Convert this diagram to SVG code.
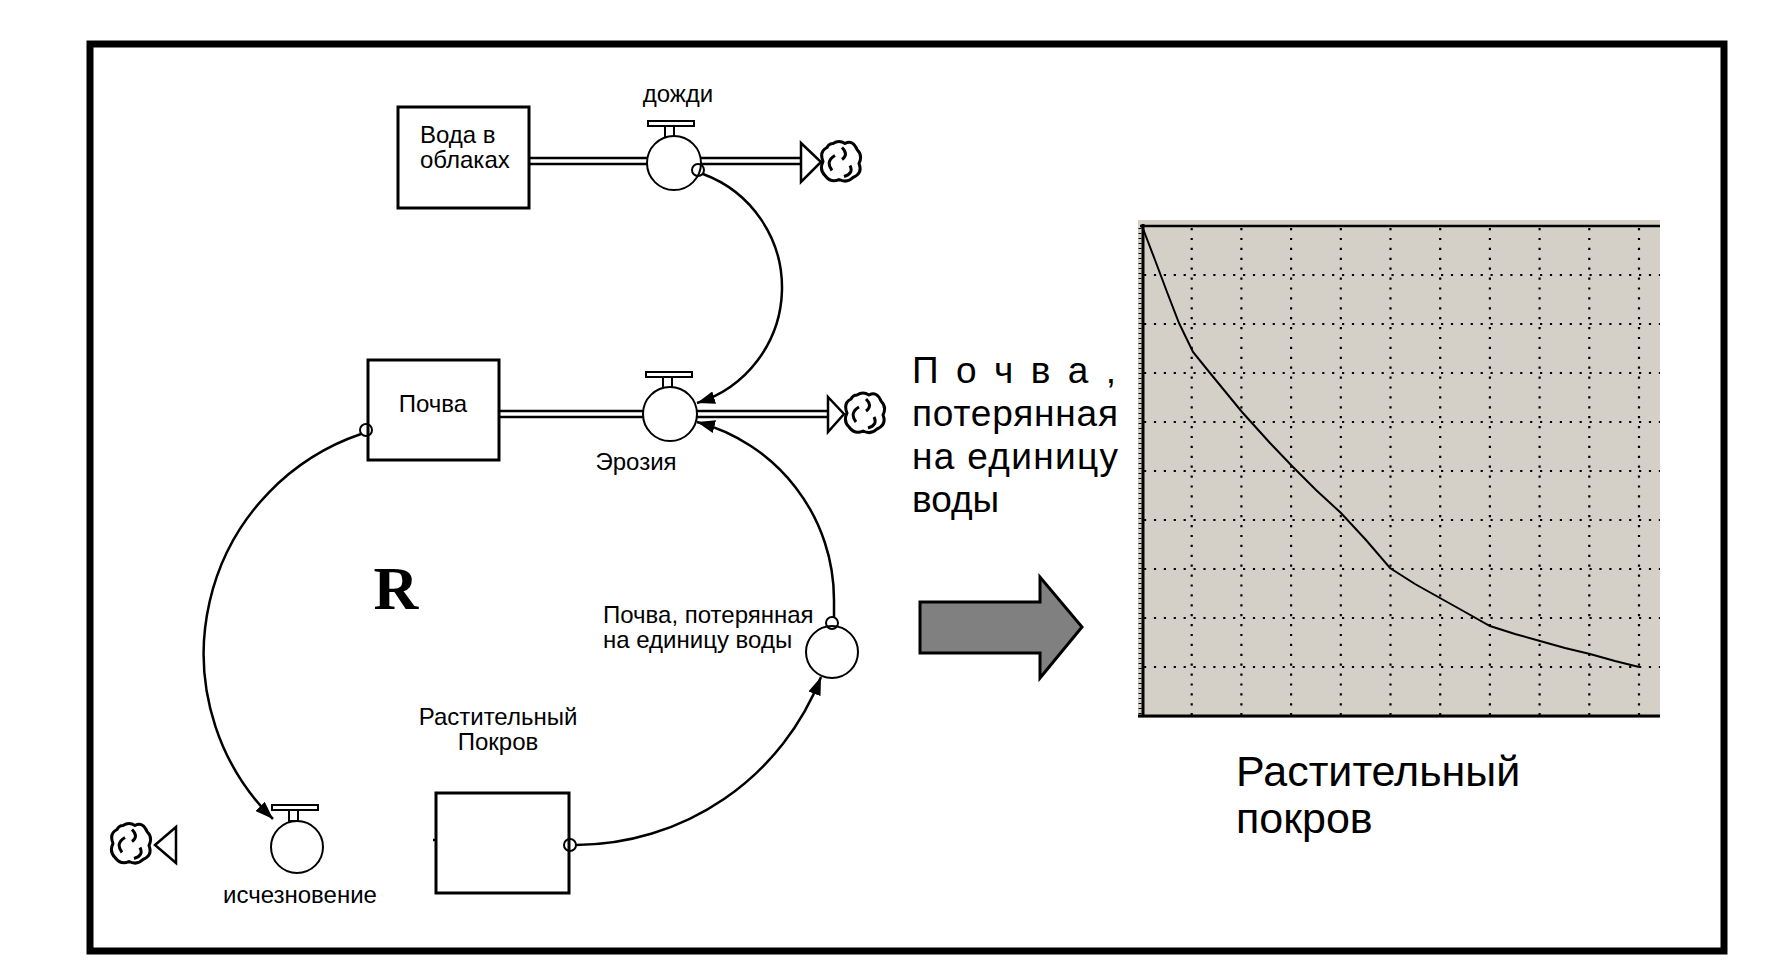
<svg xmlns="http://www.w3.org/2000/svg" xmlns:xlink="http://www.w3.org/1999/xlink" width="1774" height="976" viewBox="0 0 1774 976">
<style>
.lbl{font-family:"Liberation Sans",Arial,sans-serif;font-size:24px;fill:#000}
.big{font-family:"Liberation Sans",Arial,sans-serif;font-size:37px;fill:#000}
.title{font-family:"Liberation Sans",Arial,sans-serif;font-size:43px;fill:#000}
.box{fill:#fff;stroke:#000;stroke-width:3}
.pipe{stroke:#000;stroke-width:2.5;fill:none}
.valve{fill:#fff;stroke:#000;stroke-width:2}
.tri{fill:#fff;stroke:#000;stroke-width:2.5;stroke-linejoin:miter}
.conn{fill:none;stroke:#000;stroke-width:2.5}
.ring{fill:none;stroke:#000;stroke-width:2}
.grid{stroke:#000;stroke-width:2.2;stroke-dasharray:2.2 7.7;fill:none}
</style>
<defs>
<marker id="ah" viewBox="0 0 18 13" refX="18" refY="6.5" markerWidth="18" markerHeight="13" markerUnits="userSpaceOnUse" orient="auto">
<path d="M0,0 L18,6.5 L0,13 z" fill="#000"/>
</marker>
<symbol id="cloud" viewBox="-23 -23 46 46">
<path d="M-8,-18 Q-2,-22 4,-18 Q12,-22 16,-12 Q22,-6 18,2 Q22,12 12,16 Q6,22 -2,18 Q-10,22 -16,14 Q-22,8 -18,0 Q-22,-10 -14,-14 Q-12,-18 -8,-18 Z M-6,-6 Q-16,0 -9,9 M9,4 Q13,12 3,15 M1,-14 Q8,-7 1,-2" fill="#fff" stroke="#000" stroke-width="3" stroke-linejoin="round"/>
</symbol>
<g id="valveTop">
<rect x="-23" y="-42" width="46" height="5" class="valve"/>
<rect x="-6" y="-37" width="9" height="11" class="valve"/>
</g>
</defs>
<rect width="1774" height="976" fill="#fff"/>
<rect id="frame" x="90" y="44" width="1634" height="907" fill="none" stroke="#000" stroke-width="7"/>

<g id="pipes">
<line x1="529" y1="158" x2="801" y2="158" class="pipe"/>
<line x1="529" y1="164" x2="801" y2="164" class="pipe"/>
<line x1="499" y1="411" x2="828" y2="411" class="pipe"/>
<line x1="499" y1="417" x2="828" y2="417" class="pipe"/>
<line x1="433" y1="840" x2="436" y2="840" class="pipe"/>
</g>

<g id="stock-water">
<rect x="398" y="107" width="131" height="101" class="box"/>
<text class="lbl" x="420" y="143">Вода в</text>
<text class="lbl" x="420" y="168">облаках</text>
</g>
<g id="stock-soil">
<rect x="368" y="360" width="131" height="100" class="box"/>
<text class="lbl" x="433" y="412" text-anchor="middle">Почва</text>
</g>
<g id="stock-vegetation">
<rect x="436" y="793" width="133" height="100" class="box"/>
<text class="lbl" x="498" y="725" text-anchor="middle">Растительный</text>
<text class="lbl" x="498" y="750" text-anchor="middle">Покров</text>
</g>

<g id="flow-rain">
<use xlink:href="#valveTop" href="#valveTop" x="671" y="163"/>
<circle cx="674" cy="163" r="27" class="valve"/>
<text class="lbl" x="678" y="102" text-anchor="middle">дожди</text>
<path d="M801,143 L821,162 L801,182 Z" class="tri"/>
<use xlink:href="#cloud" href="#cloud" x="818" y="138" width="46" height="47"/>
</g>
<g id="flow-erosion">
<use xlink:href="#valveTop" href="#valveTop" x="669" y="414"/>
<circle cx="670" cy="414" r="27" class="valve"/>
<text class="lbl" x="636" y="470" text-anchor="middle">Эрозия</text>
<path d="M828,397 L844,414 L828,432 Z" class="tri"/>
<use xlink:href="#cloud" href="#cloud" x="841" y="390" width="48" height="46"/>
</g>
<g id="flow-disappear">
<use xlink:href="#valveTop" href="#valveTop" x="295" y="847"/>
<circle cx="297" cy="847" r="26" class="valve"/>
<text class="lbl" x="300" y="903" text-anchor="middle">исчезновение</text>
<path d="M176,827 L155,845 L176,863 Z" class="tri"/>
<use xlink:href="#cloud" href="#cloud" x="108" y="820" width="46" height="47"/>
</g>
<g id="aux-soil-loss">
<circle cx="832" cy="652" r="26" class="valve"/>
<text class="lbl" x="603" y="623">Почва, потерянная</text>
<text class="lbl" x="603" y="648">на единицу воды</text>
</g>

<g id="connectors">
<path class="conn" d="M703,174 A121,121 0 0 1 697,403" marker-end="url(#ah)"/>
<path class="conn" d="M361,434 A232,232 0 0 0 273,819" marker-end="url(#ah)"/>
<path class="conn" d="M834,617 L834,600 A184,184 0 0 0 697,422" marker-end="url(#ah)"/>
<path class="conn" d="M576,845 A264,264 0 0 0 821,677" marker-end="url(#ah)"/>
<circle cx="698" cy="170" r="6" class="ring"/>
<circle cx="366" cy="430" r="6" class="ring"/>
<circle cx="832" cy="623" r="6" class="ring"/>
<circle cx="570" cy="845" r="6" class="ring"/>
</g>

<g id="loop-label">
<text x="396" y="609" text-anchor="middle" font-family="'Liberation Serif','Times New Roman',serif" font-weight="bold" font-size="62">R</text>
</g>

<g id="big-arrow">
<path d="M920,602 L1040,602 L1040,577 L1082,627 L1040,678 L1040,653 L920,653 Z" fill="#808080" stroke="#000" stroke-width="3" stroke-linejoin="miter"/>
</g>

<g id="graph-caption">
<text class="big" x="912" y="383" textLength="204" lengthAdjust="spacing">П о ч в а ,</text>
<text class="big" x="912" y="426" textLength="206" lengthAdjust="spacing">потерянная</text>
<text class="big" x="912" y="469" textLength="206" lengthAdjust="spacing">на единицу</text>
<text class="big" x="912" y="512">воды</text>
</g>

<g id="chart">
<rect x="1138" y="220" width="522" height="498" fill="#d4d0c8"/>
<g class="grid">
<line x1="1191.7" y1="228" x2="1191.7" y2="716"/>
<line x1="1241.4" y1="228" x2="1241.4" y2="716"/>
<line x1="1291.1" y1="228" x2="1291.1" y2="716"/>
<line x1="1340.8" y1="228" x2="1340.8" y2="716"/>
<line x1="1390.5" y1="228" x2="1390.5" y2="716"/>
<line x1="1440.2" y1="228" x2="1440.2" y2="716"/>
<line x1="1489.9" y1="228" x2="1489.9" y2="716"/>
<line x1="1539.6" y1="228" x2="1539.6" y2="716"/>
<line x1="1589.3" y1="228" x2="1589.3" y2="716"/>
<line x1="1639" y1="228" x2="1639" y2="716"/>
<line x1="1144" y1="275" x2="1660" y2="275"/>
<line x1="1144" y1="324" x2="1660" y2="324"/>
<line x1="1144" y1="373" x2="1660" y2="373"/>
<line x1="1144" y1="422" x2="1660" y2="422"/>
<line x1="1144" y1="471" x2="1660" y2="471"/>
<line x1="1144" y1="520" x2="1660" y2="520"/>
<line x1="1144" y1="569" x2="1660" y2="569"/>
<line x1="1144" y1="618" x2="1660" y2="618"/>
<line x1="1144" y1="667" x2="1660" y2="667"/>
</g>
<line x1="1140" y1="226" x2="1660" y2="226" stroke="#000" stroke-width="2.5"/>
<line x1="1138" y1="716" x2="1660" y2="716" stroke="#000" stroke-width="3"/>
<line x1="1143" y1="224" x2="1143" y2="717" stroke="#000" stroke-width="3"/>
<line x1="1140" y1="228" x2="1140" y2="716" stroke="#000" stroke-width="3" stroke-dasharray="1 4"/>
<polyline points="1142,226 1155,260 1167,292 1179,323 1193,352 1210,373 1242,412 1270,443 1292,466 1316,490 1341,513 1366,540 1390,568 1415,584 1440,598 1465,612 1490,626 1515,634 1540,641 1565,648 1590,654 1615,661 1639,667" fill="none" stroke="#000" stroke-width="2"/>
</g>

<g id="chart-axis-label">
<text class="title" x="1236" y="786">Растительный</text>
<text class="title" x="1236" y="833">покров</text>
</g>
</svg>
